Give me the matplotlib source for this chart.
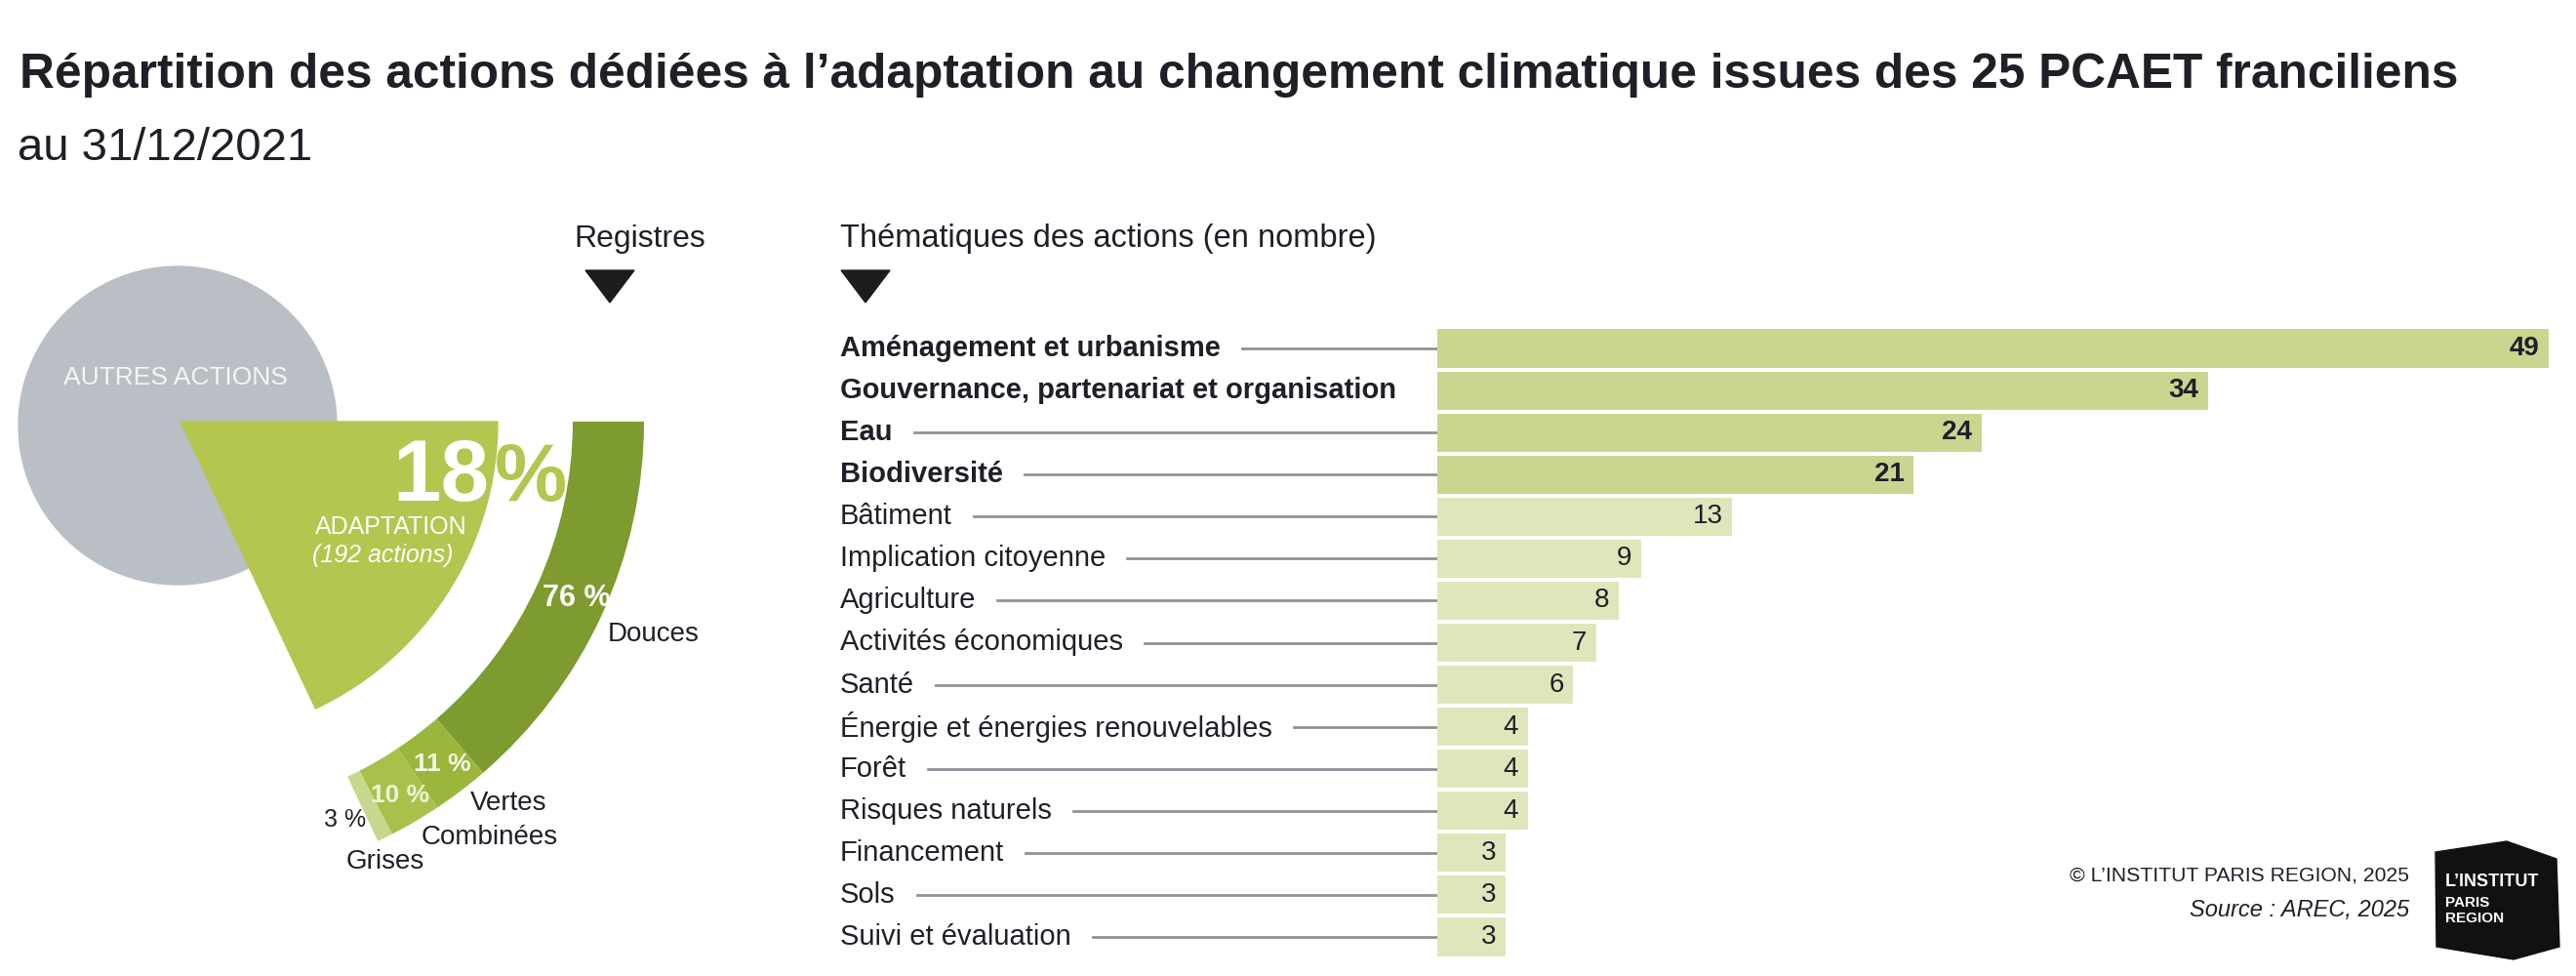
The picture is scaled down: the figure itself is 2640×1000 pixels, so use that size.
import matplotlib
matplotlib.use('Agg')
import matplotlib.pyplot as plt
from matplotlib import transforms
from matplotlib.patches import Wedge, Circle, Polygon

font = 'Liberation Sans'

# --- data ---
title = "Répartition des actions dédiées à l’adaptation au changement climatique issues des 25 PCAET franciliens"
subtitle = "au 31/12/2021"

adaptation_share = 18      # % of all actions
adaptation_count = 192
registre_names = ['Douces', 'Vertes', 'Combinées', 'Grises']
registre_shares = [76, 11, 10, 3]

themes = ['Aménagement et urbanisme', 'Gouvernance, partenariat et organisation', 'Eau',
          'Biodiversité', 'Bâtiment', 'Implication citoyenne', 'Agriculture',
          'Activités économiques', 'Santé', 'Énergie et énergies renouvelables', 'Forêt',
          'Risques naturels', 'Financement', 'Sols', 'Suivi et évaluation']
counts = [49, 34, 24, 21, 13, 9, 8, 7, 6, 4, 4, 4, 3, 3, 3]
n_main = 4  # first themes shown in bold / darker bars

# colours
gray = '#b9bfc4'
adapt_green = '#b4c64f'
ring_colors = ['#7e9b30', '#9bb63c', '#a8c14b', '#c7d78c']
bar_main = '#c9d68f'
bar_other = '#dee7bb'
dark = '#1f1f28'
line_col = '#8e9399'

W, H = 2640, 1000
fig = plt.figure(figsize=(W / 100, H / 100), dpi=100)
fig.patch.set_facecolor('white')

# full-figure axes in pixel units for the infographic part
ax0 = fig.add_axes([0, 0, 1, 1])
ax0.set_xlim(0, W)
ax0.set_ylim(H, 0)
ax0.axis('off')

ax0.text(20, 77, title, fontsize=35.7, fontweight='bold', family=font, color=dark, va='center', ha='left')
ax0.text(18, 152, subtitle, fontsize=34, family=font, color=dark, va='center', ha='left')

# grey circle = other actions
ax0.add_patch(Circle((182, 436), 163, color=gray, zorder=1))
ax0.text(180, 387, 'AUTRES ACTIONS', fontsize=19, family=font, color='#f4f5f6', ha='center', va='center', zorder=5)

# adaptation slice (angle from share), y axis points down so angles go clockwise
center = (185, 432)
span = 360 * adaptation_share / 100
ax0.add_patch(Wedge(center, 325, 0, span, color=adapt_green, zorder=2))

# registres ring, same angular span split by shares
start = 0
for share, col in zip(registre_shares, ring_colors):
    end = start + span * share / 100
    ax0.add_patch(Wedge(center, 475, start, end, width=73, color=col, zorder=2, lw=0))
    start = end

ax0.text(501, 513, f'{adaptation_share}', fontsize=64, fontweight='bold', family=font,
         color='white', ha='right', va='baseline', zorder=5)
ax0.text(507, 513, '%', fontsize=60, fontweight='bold', family=font,
         color=adapt_green, ha='left', va='baseline', zorder=5)
ax0.text(401, 540, 'ADAPTATION', fontsize=18, family=font, color='white', ha='center', va='center', zorder=5)
ax0.text(392, 569, f'({adaptation_count} actions)', fontsize=18, family=font, style='italic',
         color='white', ha='center', va='center', zorder=5)

ax0.text(591, 613, f'{registre_shares[0]} %', fontsize=22, fontweight='bold', family=font,
         color='white', ha='center', va='center', zorder=5)
ax0.text(453, 783, f'{registre_shares[1]} %', fontsize=19, fontweight='bold', family=font,
         color='#f3f6e6', ha='center', va='center', zorder=5)
ax0.text(410, 815, f'{registre_shares[2]} %', fontsize=19, fontweight='bold', family=font,
         color='#eef3d8', ha='center', va='center', zorder=5)
ax0.text(354, 840, f'{registre_shares[3]} %', fontsize=18, family=font,
         color=dark, ha='center', va='center', zorder=5)
ax0.text(623, 650, registre_names[0], fontsize=20, family=font, color=dark, ha='left', va='center')
ax0.text(482, 823, registre_names[1], fontsize=20, family=font, color=dark, ha='left', va='center')
ax0.text(432, 858, registre_names[2], fontsize=20, family=font, color=dark, ha='left', va='center')
ax0.text(355, 883, registre_names[3], fontsize=20, family=font, color=dark, ha='left', va='center')

# section headers with small triangles
ax0.text(588, 245, 'Registres', fontsize=23, family=font, color=dark, ha='left', va='center')
ax0.add_patch(Polygon([(600, 277), (650, 277), (625, 310)], color='#1c1c1c'))
ax0.text(861, 245, 'Thématiques des actions (en nombre)', fontsize=23.5, family=font,
         color=dark, ha='left', va='center')
ax0.add_patch(Polygon([(862, 277), (912, 277), (887, 310)], color='#1c1c1c'))

# --- bar chart ---
ax = fig.add_axes([1473 / W, 1 - 981.5 / H, 1139 / W, 0.646])
ax.set_xlim(0, 49)
ax.set_ylim(len(themes) - 0.5, -0.5)
ax.axis('off')
ypos = list(range(len(themes)))
colors = [bar_main if i < n_main else bar_other for i in ypos]
ax.barh(ypos, counts, height=0.91, color=colors, lw=0)

trans = transforms.blended_transform_factory(ax0.transData, ax.transData)
label_texts = []
for i, (name, c) in enumerate(zip(themes, counts)):
    w = 'bold' if i < n_main else 'normal'
    t = ax.text(861, i, name, transform=trans, fontsize=21, fontweight=w, family=font,
                color=dark, ha='left', va='center', clip_on=False)
    label_texts.append(t)
    ax.annotate(str(c), (c, i), xytext=(-7, 0), textcoords='offset points', ha='right', va='center',
                fontsize=20, fontweight=w, family=font, color=dark)

# leader lines from label end to bar start
fig.canvas.draw()
r = fig.canvas.get_renderer()
bar_x0 = ax0.transData.inverted().transform(ax.transData.transform((0, 0)))[0]
for i, t in enumerate(label_texts):
    bb = t.get_window_extent(r)
    x1 = ax0.transData.inverted().transform((bb.x1, 0))[0] + 22
    if bar_x0 - x1 > 40:
        ax.plot([x1, bar_x0], [i, i], transform=trans, color=line_col, lw=2, clip_on=False, zorder=0)

# footer + logo
ax0.text(2469, 897, '© L’INSTITUT PARIS REGION, 2025', fontsize=15.2, family=font, color=dark,
         ha='right', va='center')
ax0.text(2469, 932, 'Source : AREC, 2025', fontsize=17, family=font, style='italic', color=dark,
         ha='right', va='center')
ax0.add_patch(Polygon([(2496, 873), (2569, 862), (2620, 880), (2623, 970), (2576, 983), (2497, 970)],
                      color='#111111'))
ax0.text(2506, 903, 'L’INSTITUT', fontsize=13, fontweight='bold', family=font, color='white', ha='left', va='center')
ax0.text(2506, 925, 'PARIS', fontsize=11, fontweight='bold', family=font, color='white', ha='left', va='center')
ax0.text(2506, 941, 'REGION', fontsize=11, fontweight='bold', family=font, color='white', ha='left', va='center')

fig.savefig('out.png', dpi=100, facecolor='white')
